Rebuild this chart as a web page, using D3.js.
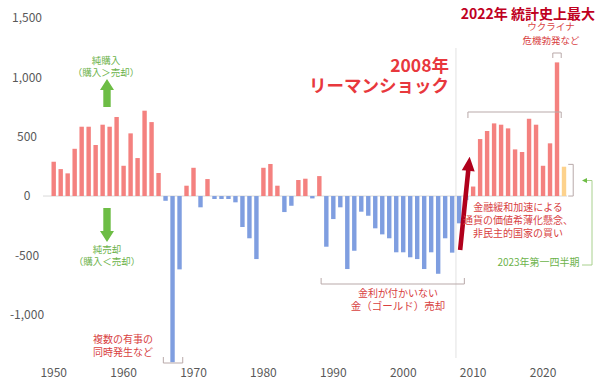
<!DOCTYPE html>
<html>
<head>
<meta charset="utf-8">
<script src="https://cdn.jsdelivr.net/npm/d3@7"></script>
<style>
  body { margin: 0; background: #fff; }
  svg { display: block; font-family: "Noto Sans CJK JP", "Noto Sans", sans-serif; }
</style>
</head>
<body>
<svg id="chart"></svg>
<script>
// 中央銀行の金の純購入量 (トン)
const years = d3.range(1950, 2024);
const netPurchases = [
  289, 227, 191, 398, 584, 584, 430, 601, 584, 666,            // 1950-59
  255, 528, 320, 719, 623, 194, -40, -1400, -618, 87,          // 1960-69
  238, -95, 143, -25, -25, -25, -53, -261, -356, -531,         // 1970-79
  238, 270, 87, -135, -82, 135, 146, -20, 168, -427,           // 1980-89
  -194, -95, -615, -461, -132, -166, -272, -323, -356, -474,   // 1990-99
  -474, -516, -531, -615, -474, -655, -356, -477, -230, -34,   // 2000-09
  80, 480, 548, 612, 601, 570, 393, 371, 651, 601,             // 2010-19
  255, 444, 1126, 247                                          // 2020-23
];
const partialYears = [2023];
const yTicks = [-1000, -500, 0, 500, 1000, 1500];
const xTicks = [1950, 1960, 1970, 1980, 1990, 2000, 2010, 2020];

const WIDTH = 600, HEIGHT = 382;

const colors = { pos: "#f4817f", neg: "#7f9ee0", partial: "#fdd28c" };
const green = "#6dbd45", greenText = "#6cb24a";
const redText = "#d8413f", lehmanRed = "#e8383d", titleRed = "#c0001f";
const bracketColor = "#b9a9a9";

const svg = d3.select("svg#chart")
                .attr("width", WIDTH)
                .attr("height", HEIGHT);

const x = d3.scaleBand()
            .domain(years)
            .range([50.2, 567.5])
            .paddingInner(0.37)
            .paddingOuter(0.185);

const y = d3.scaleLinear()
            .domain([-1400, 1500])
            .range([362.2, 18]);

const cx = (yr) => x(yr) + x.bandwidth() / 2;

const data = years.map((yr, i) => ({ year: yr, value: netPurchases[i] }));

// 縦の区切り線 (2008年)
svg.append("line")
    .attr("x1", x(2008) - 1).attr("x2", x(2008) - 1)
    .attr("y1", 48).attr("y2", 358)
    .attr("stroke", "#e2e2e2");

// ゼロ線
svg.append("line")
    .attr("x1", 43).attr("x2", 567)
    .attr("y1", y(0)).attr("y2", y(0))
    .attr("stroke", "#d9d9d9");

// 棒
svg.append("g")
    .selectAll("rect")
    .data(data)
    .join("rect")
        .attr("x", (d) => x(d.year))
        .attr("width", x.bandwidth())
        .attr("y", (d) => y(Math.max(0, d.value)))
        .attr("height", (d) => Math.abs(y(d.value) - y(0)))
        .attr("fill", (d) => partialYears.includes(d.year) ? colors.partial
                              : d.value >= 0 ? colors.pos : colors.neg);

// 軸
const fmt = d3.formatLocale({ decimal: ".", thousands: ",", grouping: [3], currency: ["", ""], minus: "-" }).format(",");

svg.append("g")
    .attr("transform", "translate(27,0)")
    .call(d3.axisLeft(y).tickValues(yTicks).tickSize(0).tickFormat(fmt))
    .attr("font-family", null)
    .attr("font-size", 12)
    .call((g) => g.select(".domain").remove())
    .selectAll("text")
        .attr("x", 0)
        .attr("text-anchor", "middle")
        .attr("fill", "#595959");

svg.append("g")
    .attr("transform", "translate(0,365)")
    .call(d3.axisBottom(x).tickValues(xTicks).tickSize(0))
    .attr("font-family", null)
    .attr("font-size", 12)
    .call((g) => g.select(".domain").remove())
    .selectAll("text")
        .attr("fill", "#595959");

// 注釈テキスト
const addText = (lines, px, py, opts) => {
    const t = svg.append("text")
                .attr("x", px)
                .attr("y", py)
                .attr("text-anchor", opts.anchor || "middle")
                .attr("font-size", opts.size)
                .attr("font-weight", opts.weight || "normal")
                .attr("fill", opts.color);
    lines.forEach((line, i) => {
        t.append("tspan")
            .attr("x", px)
            .attr("dy", i === 0 ? 0 : opts.lh)
            .text(line);
    });
    return t;
};

const bracket = (path, color) => {
    svg.append("path")
        .attr("d", path)
        .attr("fill", "none")
        .attr("stroke", color || bracketColor)
        .attr("stroke-width", 1);
};

// 純購入 / 純売却
addText(["純購入", "（購入＞売却）"], 106, 63.5, { size: 9.5, color: greenText, lh: 12 });
addText(["純売却", "（購入＜売却）"], 107, 252.5, { size: 9.5, color: greenText, lh: 12.5 });

const ax = 107;
svg.append("path")
    .attr("d", `M${ax},79 L${ax + 7},90 L${ax + 3.7},90 L${ax + 3.7},107 L${ax - 3.7},107 L${ax - 3.7},90 L${ax - 7},90 Z`)
    .attr("fill", green);
svg.append("path")
    .attr("d", `M${ax},242 L${ax + 7},231 L${ax + 3.7},231 L${ax + 3.7},208 L${ax - 3.7},208 L${ax - 3.7},231 L${ax - 7},231 Z`)
    .attr("fill", green);

// 1967年
addText(["複数の有事の", "同時発生など"], 123, 342.5, { size: 10, color: redText, lh: 13 });
bracket(`M${x(1966)},357 V363 H${x(1968) + x.bandwidth() + 1} V357`);

// 1989-2008年
addText(["金利が付かいない"], 398, 296.5, { size: 10, color: redText, lh: 0 });
addText(["金（ゴールド）売却"], 398, 310, { size: 10.5, color: redText, lh: 0 });
bracket(`M${x(1989) - 3},278 V284 H${x(2008) + x.bandwidth() + 3} V278`);

// 2008年 リーマンショック
addText(["2008年", "リーマンショック"], 449, 71.5, { size: 17.5, weight: "bold", color: lehmanRed, lh: 20.5, anchor: "end" });

// 矢印
const base = [cx(2008) + 1, y(-455)], tip = [cx(2009) + 3.5, y(330)];
const dx = tip[0] - base[0], dy = tip[1] - base[1];
const len = Math.hypot(dx, dy);
const ux = dx / len, uy = dy / len, nx = -uy, ny = ux;
const headLen = 14, headW = 6.5, shaftW = 2.3;
const hb = [tip[0] - ux * headLen, tip[1] - uy * headLen];
const pt = (p, k) => `${p[0] + nx * k},${p[1] + ny * k}`;
svg.append("path")
    .attr("d", `M${pt(base, shaftW)} L${pt(hb, shaftW)} L${pt(hb, headW)} L${tip[0]},${tip[1]} L${pt(hb, -headW)} L${pt(hb, -shaftW)} L${pt(base, -shaftW)} Z`)
    .attr("fill", "#b0001c");

// 2010年以降
addText(["金融緩和加速による", "通貨の価値希薄化懸念、", "非民主的国家の買い"], 518, 211, { size: 10, color: redText, lh: 13 });
bracket(`M${x(2010) - 3},118 V112 H${x(2022) + x.bandwidth() + 2} V118`);

// 2022年
addText(["2022年 統計史上最大"], 595, 19, { size: 14, weight: "bold", color: titleRed, lh: 0, anchor: "end" });
addText(["ウクライナ", "危機勃発など"], 551, 30, { size: 9.5, color: redText, lh: 14 });
bracket(`M${x(2022) - 2},58 V53 H${x(2022) + x.bandwidth() + 2} V58`);

// 2023年第一四半期
bracket(`M${x(2023) + x.bandwidth() + 2},${y(250) - 2} H${x(2023) + x.bandwidth() + 7} V${y(0)} H${x(2023) + x.bandwidth() + 2}`);
svg.append("path")
    .attr("d", `M586,180.5 H592 V265 H582`)
    .attr("fill", "none")
    .attr("stroke", "#a8d08d")
    .attr("stroke-width", 1);
svg.append("path")
    .attr("d", "M582,180.5 L587,178 L587,183 Z")
    .attr("fill", green);
addText(["2023年第一四半期"], 538.5, 265.5, { size: 10, color: greenText, lh: 0 });
</script>
</body>
</html>
